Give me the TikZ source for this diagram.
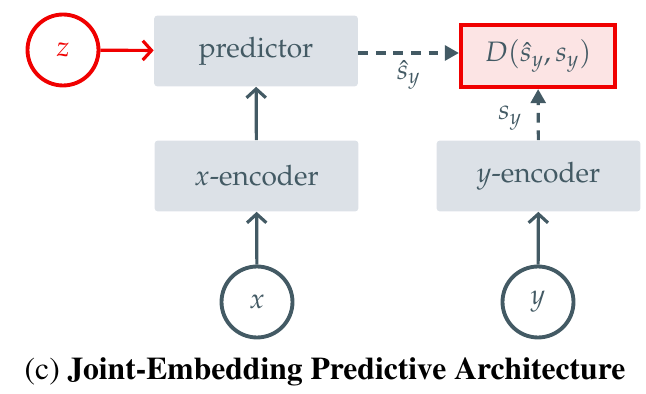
\documentclass[tikz,border=0pt]{standalone}
\usepackage[T1]{fontenc}
\usepackage{mathpazo}
\usetikzlibrary{arrows.meta}

\definecolor{slate}{HTML}{435A64}
\definecolor{boxfill}{HTML}{DCE1E7}
\definecolor{lossred}{HTML}{F00000}
\definecolor{lossfill}{HTML}{FCE4E4}

\tikzset{
  block/.style={fill=boxfill, rounded corners=2pt, minimum width=4.08cm,
    minimum height=1.42cm, text=slate, font=\fontsize{16}{19}\selectfont},
  var/.style={circle, draw=slate, line width=2.2pt, minimum size=1.42cm,
    text=slate, font=\fontsize{16}{19}\selectfont},
  flow/.style={draw=slate, line width=1.8pt, -{Straight Barb[length=5pt,width=11pt]}},
  dashflow/.style={draw=slate, line width=1.8pt, dash pattern=on 5.5pt off 4.5pt,
    -{Triangle[length=8pt,width=8.5pt]}},
}

\begin{document}
\begin{tikzpicture}[x=0.02cm, y=-0.02cm]
  \useasboundingbox (0,0) rectangle (646,394);

  \node[block] (pred) at (256,51) {predictor};
  \node[block] (xenc) at (256.5,176) {$x$-encoder};
  \node[block] (yenc) at (538.5,176) {$y$-encoder};
  \node[var] (x) at (257,302) {$x$};
  \node[var] (y) at (538,302) {$y$};
  \node[var, draw=lossred, text=lossred] (z) at (63,50) {$z$};
  \node[draw=lossred, line width=2.4pt, fill=lossfill, minimum width=3.08cm,
    minimum height=1.24cm, text=slate, font=\fontsize{16}{19}\selectfont]
    (D) at (538,56) {$D(\hat{s}_y,s_y)$};

  % encoders and predictor
  \begin{scope}[flow]
    \draw (x) -- (xenc);
    \draw (y) -- (yenc);
    \draw (xenc) -- (pred);
    \draw[draw=lossred] (z) -- (pred);
  \end{scope}

  % both embeddings go into the energy
  \draw[dashflow] ([yshift=-0.04cm]pred.east) -- ([yshift=-0.04cm]pred.east -| D.west)
    node[midway, below, text=slate, font=\fontsize{16}{19}\selectfont] {$\hat{s}_y$};
  \draw[dashflow] (yenc) -- (D)
    node[midway, left=5pt, yshift=-2pt, text=slate, font=\fontsize{16}{19}\selectfont] {$s_y$};

  \node[font=\fontfamily{ptm}\fontsize{18}{21}\selectfont] (caption) at (325,372)
    {(c) \textbf{Joint-Embedding Predictive Architecture}};
\end{tikzpicture}
\end{document}
